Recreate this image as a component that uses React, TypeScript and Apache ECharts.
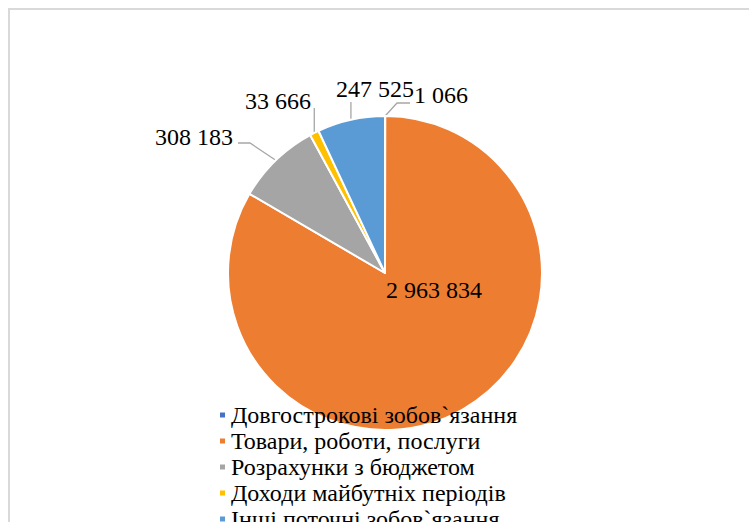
import React, { useEffect, useRef } from "react";
import * as echarts from "echarts";

const categories = [
  "Довгострокові зобов`язання",
  "Товари, роботи, послуги",
  "Розрахунки з бюджетом",
  "Доходи майбутніх періодів",
  "Інші поточні зобов`язання",
];
const values = [1066, 2963834, 308183, 33666, 247525];
const colors = ["#4472C4", "#ED7D31", "#A5A5A5", "#FFC000", "#5B9BD5"];

const fmt = (v: number) => String(v).replace(/\B(?=(\d{3})+(?!\d))/g, " ");

const FONT = "Times New Roman, Liberation Serif, DejaVu Serif, serif";

export default function App() {
  const ref = useRef<HTMLDivElement>(null);
  useEffect(() => {
    if (!ref.current) return;
    const chart = echarts.init(ref.current, null, { renderer: "svg" });
    const layouts: Record<number, any> = {
      0: { x: 414, y: 95, align: "left", mid: [[397, 103], [410, 103]] },
      1: { x: 386, y: 290, align: "left" },
      2: { x: 233, y: 137, align: "right", mid: [[250, 143], [238, 143]] },
      3: { x: 278, y: 101, align: "center", vert: 108 },
      4: { x: 375, y: 89, align: "center", vert: 102 },
    };
    chart.setOption({
      animation: false,
      backgroundColor: "#fff",
      graphic: [
        {
          type: "rect",
          shape: { x: 9, y: 9, width: 800, height: 600 },
          style: { fill: "none", stroke: "#D9D9D9", lineWidth: 2 },
          silent: true,
        },
      ],
      legend: {
        orient: "vertical",
        left: 213,
        top: 398,
        icon: "rect",
        itemWidth: 7,
        itemHeight: 7,
        itemGap: 2,
        itemTextGap: 9,
        selectedMode: false,
        data: categories,
        textStyle: { fontFamily: FONT, fontSize: 24, color: "#000", lineHeight: 22 },
      },
      series: [
        {
          type: "pie",
          center: [385, 273],
          radius: [0, 157],
          startAngle: 90,
          clockwise: true,
          avoidLabelOverlap: false,
          itemStyle: { borderColor: "#fff", borderWidth: 2 },
          label: {
            show: true,
            position: "outside",
            formatter: (p: any) => fmt(p.value),
            fontFamily: FONT,
            fontSize: 24,
            color: "#000",
          },
          labelLine: { show: true, length: 10, length2: 10, lineStyle: { color: "#A6A6A6", width: 1.3 } },
          labelLayout: (params: any) => {
            const l = layouts[params.dataIndex];
            const res: any = { x: l.x, y: l.y, align: l.align, verticalAlign: "middle" };
            const p0 = params.labelLinePoints ? params.labelLinePoints[0] : null;
            if (p0 && l.mid) res.labelLinePoints = [p0, l.mid[0], l.mid[1]];
            if (p0 && l.vert) res.labelLinePoints = [p0, [p0[0], (p0[1] + l.vert) / 2], [p0[0], l.vert]];
            return res;
          },
          data: categories.map((name, i) => ({
            name,
            value: values[i],
            itemStyle: { color: colors[i] },
            ...(i === 1
              ? { label: { position: "inside" }, labelLine: { show: false } }
              : {}),
          })),
        },
      ],
    });
    return () => chart.dispose();
  }, []);
  return (
    <div style={{ position: "absolute", left: 0, top: 0, width: 749, height: 522, overflow: "hidden" }}>
      <div ref={ref} style={{ width: 749, height: 600 }} />
    </div>
  );
}
